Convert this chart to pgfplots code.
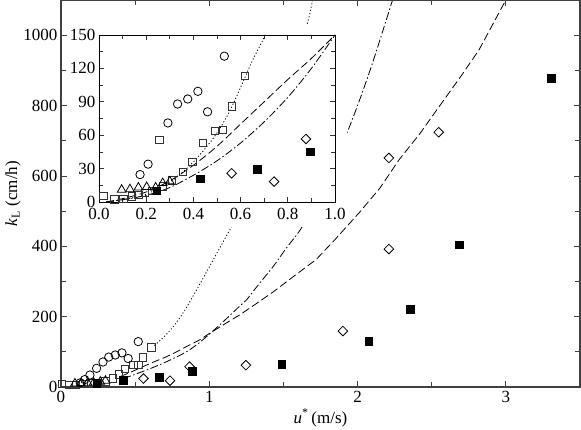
\documentclass[border=0pt]{standalone}
\usepackage{fontspec}
\setmainfont{Liberation Serif}
\usepackage{pgfplots}
\pgfplotsset{compat=1.18}
\usetikzlibrary{calc}
\pgfplotsset{
  mk/.style={only marks, black, mark options={solid, line width=0.8pt, black}},
  mcirc/.style={mk, mark=o, mark size=4.2pt},
  msq/.style={mk, mark=square, mark size=3.7pt, mark options={solid, line width=0.8pt, black!80}},
  mtri/.style={mk, mark=triangle, mark size=5pt},
  mfsq/.style={mk, mark=square*, mark size=3.8pt, mark options={solid, fill=black, draw=black, line width=0.5pt}},
  mdia/.style={mk, mark=square, mark size=3.4pt, mark options={solid, rotate=45, line width=0.8pt, black}},
  ldot/.style={no marks, black, line width=0.85pt, dash pattern=on 1.1pt off 2.2pt},
  ldash/.style={no marks, black, line width=0.8pt, dash pattern=on 8pt off 3.5pt},
  ldd/.style={no marks, black, line width=0.8pt, dash pattern=on 8pt off 2.5pt on 1.5pt off 2.5pt},
}
\begin{document}
\begin{tikzpicture}[font=\fontsize{17}{20}\selectfont]
\begin{axis}[name=main, scale only axis, width=519pt, height=387pt,
  xmin=0, xmax=3.5, ymin=0, ymax=1100,
  xtick={0,1,2,3}, xticklabels={0,1,2,3},
  ytick={0,200,400,600,800,1000}, yticklabels={0,200,400,600,800,1000},
  minor x tick num=1, minor y tick num=1,
  tick align=inside, major tick length=6pt, minor tick length=5pt,
  axis line style={black!75, line width=1.1pt},
  every tick/.style={black!75, line width=0.8pt},
  tick label style={font=\fontsize{17}{20}\selectfont},
  xticklabel style={yshift=-1pt},
  xlabel={\textit{u}\textsuperscript{*}\,(m/s)},
  ylabel={\textit{k}\textsubscript{L} (cm/h)},
  every axis x label/.style={at={(axis description cs:0.5,-0.08)}, anchor=center},
  every axis y label/.style={at={(axis description cs:-0.0925,0.5)}, anchor=center, rotate=90},
  axis on top,
]
\addplot[ldot, smooth] coordinates {(0.63,118) (0.7,145) (0.756,171) (0.83,215) (0.914,276) (1.026,361) (1.082,404) (1.156,460) (1.24,526) (1.35,640) (1.45,745) (1.55,860) (1.663,1035) (1.697,1101) (1.71,1130)};
\addplot[ldash] coordinates {(0.4,30) (0.47,42) (0.553,58) (0.63,72) (0.712,86) (0.78,100) (0.846,115) (0.936,134) (1.0,152) (1.1,178) (1.205,205) (1.3,232) (1.43,270) (1.58,318) (1.72,362) (1.85,420) (2.01,495) (2.15,565) (2.28,646) (2.42,720) (2.55,797) (2.7,885) (2.82,959) (3.0,1100) (3.02,1115)};
\addplot[ldd, smooth] coordinates {(0.42,24) (0.487,34) (0.6,52) (0.712,72) (0.846,100) (0.93,125) (1.0,150) (1.1,188) (1.205,230) (1.25,247) (1.33,290) (1.43,342) (1.52,395) (1.62,451) (1.72,530) (1.82,620) (1.91,703) (2.0,800) (2.1,920) (2.236,1100) (2.25,1120)};
\fill[white] (axis cs:0.045,456) rectangle (axis cs:1.926,1033);
\addplot[msq] coordinates {(0.005,8) (0.054,6) (0.1,6) (0.15,8) (0.2,10) (0.25,12) (0.3,16) (0.348,25) (0.39,36) (0.431,51) (0.487,63) (0.521,63) (0.554,84) (0.61,112)};
\addplot[mcirc] coordinates {(0.13,12) (0.16,21) (0.195,34) (0.24,53) (0.283,71) (0.322,85) (0.366,91) (0.411,97) (0.453,81) (0.521,129)};
\addplot[mtri] coordinates {(0.094,10) (0.135,11) (0.18,12) (0.22,12) (0.265,15) (0.3,18)};
\addplot[mfsq] coordinates {(0.24,10) (0.42,20) (0.663,28) (0.886,44.5) (1.488,65) (2.076,130) (2.357,221) (2.687,404) (3.306,878)};
\addplot[mdia] coordinates {(0.556,24) (0.735,18) (0.867,58) (1.247,62) (1.901,159) (2.211,392) (2.211,651) (2.547,724)};
\end{axis}
\begin{axis}[name=inset, at={($(main.south west)+(38pt,185pt)$)}, anchor=south west,
  scale only axis, width=236pt, height=167pt,
  xmin=0, xmax=1, ymin=0, ymax=150,
  xtick={0,0.2,0.4,0.6,0.8,1.0}, xticklabels={0.0,0.2,0.4,0.6,0.8,1.0},
  ytick={0,30,60,90,120,150}, yticklabels={0,30,60,90,120,150},
  minor x tick num=1, minor y tick num=1,
  tick align=inside, major tick length=5pt, minor tick length=4pt,
  axis line style={black, line width=0.9pt},
  every tick/.style={black!80, line width=0.7pt},
  tick label style={font=\fontsize{17}{20}\selectfont},
  xticklabel style={yshift=-3pt},
  axis background/.style={fill=white},
]
\addplot[ldot, smooth] coordinates {(0.03,0) (0.1,2) (0.2,7) (0.3,18) (0.35,26) (0.4,36) (0.45,48) (0.5,62) (0.55,80) (0.6,103) (0.65,127) (0.7,148) (0.72,160)};
\addplot[ldash, smooth] coordinates {(0.03,0) (0.1,3) (0.2,9) (0.3,19) (0.4,33) (0.5,50) (0.6,70) (0.7,90) (0.8,110) (0.9,129) (1.0,150)};
\addplot[ldd, smooth] coordinates {(0.03,0) (0.1,2) (0.2,6) (0.3,13) (0.4,24) (0.5,37) (0.6,53) (0.7,72) (0.8,94) (0.9,120) (1.0,150)};
\addplot[msq] coordinates {(0.018,5.5) (0.066,2.4) (0.103,3) (0.139,5) (0.167,6.5) (0.195,8) (0.225,10) (0.256,56) (0.27,14) (0.309,19.5) (0.355,27) (0.395,36) (0.44,53) (0.49,64) (0.524,65) (0.564,86) (0.617,113)};
\addplot[mcirc] coordinates {(0.174,24.6) (0.208,34) (0.292,71) (0.333,88) (0.376,92.5) (0.419,99.4) (0.46,81) (0.531,131)};
\addplot[mtri] coordinates {(0.096,11) (0.131,11.5) (0.167,13) (0.202,13.5) (0.24,13) (0.27,17) (0.30,18.5)};
\addplot[mfsq] coordinates {(0.244,10) (0.428,20.7) (0.671,29.6) (0.894,45.2)};
\addplot[mdia] coordinates {(0.562,25.8) (0.742,18.3) (0.877,56.6)};
\end{axis}
\pgfresetboundingbox
\path ([xshift=-61pt,yshift=-43pt]main.south west) rectangle ([xshift=1pt]main.north east);
\end{tikzpicture}
\end{document}
